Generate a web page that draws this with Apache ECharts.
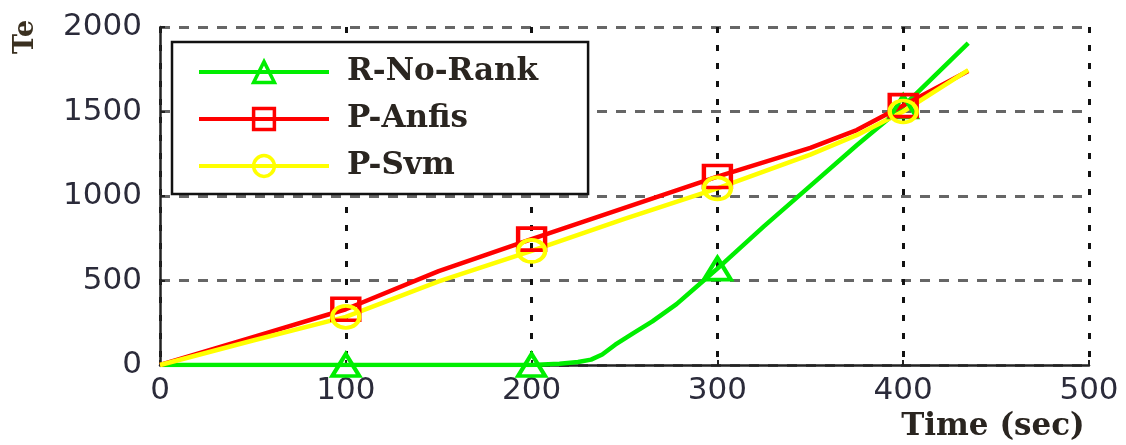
<!DOCTYPE html>
<html>
<head>
<meta charset="utf-8">
<script src="https://cdn.jsdelivr.net/npm/echarts@6/dist/echarts.min.js"></script>
<style>
html,body{margin:0;padding:0;background:#fff;}
#chart{width:1126px;height:445px;}
</style>
</head>
<body>
<div id="chart"></div>
<script>
// ---- data ----
const timeR = [0, 50, 100, 150, 200, 215, 225, 232, 238, 245, 255, 265, 278, 290, 300, 325, 350, 375, 400, 435];
const rNoRank = [0, 0, 0, 0, 0, 8, 18, 32, 62, 120, 190, 258, 360, 475, 570, 820, 1060, 1300, 1530, 1905];
const timeP = [0, 50, 100, 150, 200, 250, 300, 350, 375, 400, 435];
const pAnfis = [0, 165, 330, 555, 745, 930, 1115, 1285, 1390, 1535, 1740];
const pSvm = [0, 145, 285, 495, 675, 865, 1045, 1245, 1360, 1500, 1745];
const markerTimes = [100, 200, 300, 400];
const seriesNames = ['R-No-Rank', 'P-Anfis', 'P-Svm'];
const xTicks = [0, 100, 200, 300, 400, 500];
const yTicks = [0, 500, 1000, 1500, 2000];
const xTitle = 'Time (sec)';
const yTitle = 'Te';

function build(times, vals) {
  return times.map((t, i) => markerTimes.indexOf(t) >= 0
    ? { value: [t, vals[i]] }
    : { value: [t, vals[i]], symbol: 'none' });
}

function mkSeries(name, times, vals, color, symbol) {
  return {
    name: name,
    type: 'line',
    color: color,
    data: build(times, vals),
    symbol: symbol,
    symbolSize: [27, 22],
    showSymbol: true,
    showAllSymbol: true,
    lineStyle: { color: color, width: 4.5 },
    itemStyle: { color: 'rgba(255,255,255,0)', borderColor: color, borderWidth: 4 },
    emphasis: { disabled: true },
    animation: false
  };
}

const chart = echarts.init(document.getElementById('chart'), null, { renderer: 'canvas' });
const serif = 'DejaVu Serif';
const sans = 'DejaVu Sans';
chart.setOption({
  animation: false,
  backgroundColor: '#ffffff',
  grid: { left: 160, right: 37, top: 27, bottom: 80, containLabel: false },
  legend: {
    data: seriesNames,
    left: 172, top: 42,
    orient: 'vertical',
    itemWidth: 130, itemHeight: 26,
    itemGap: 15,
    padding: [14, 50, 12, 25],
    backgroundColor: '#ffffff',
    borderColor: '#111', borderWidth: 2.5,
    lineStyle: { width: 4 },
    itemStyle: { borderWidth: 3.5 },
    textStyle: { fontFamily: serif, fontWeight: 'bold', fontSize: 31, color: '#2a2520', lineHeight: 32, padding: [0, 0, 0, 13] },
    selectedMode: false
  },
  xAxis: {
    type: 'value',
    min: 0, max: 500, interval: 100,
    name: xTitle,
    nameLocation: 'end',
    nameGap: -96,
    nameTextStyle: { fontFamily: serif, fontWeight: 'bold', fontSize: 31, color: '#2a2520', align: 'center', verticalAlign: 'top', padding: [46, 0, 0, 0] },
    axisLine: { show: true, onZero: false, lineStyle: { color: '#222', width: 2.5 } },
    axisTick: { show: true, inside: true, length: 5, lineStyle: { color: '#222', width: 2 } },
    axisLabel: { fontFamily: sans, fontSize: 31, color: '#2b2b3a', margin: 10,
      formatter: v => (xTicks.indexOf(v) >= 0 ? String(v) : '') },
    splitLine: { show: true, lineStyle: { color: '#111', width: 3, type: [6, 12] } }
  },
  yAxis: {
    type: 'value',
    min: 0, max: 2000, interval: 500,
    axisLine: { show: true, onZero: false, lineStyle: { color: '#222', width: 2.5 } },
    axisTick: { show: true, inside: true, length: 5, lineStyle: { color: '#222', width: 2 } },
    axisLabel: { fontFamily: sans, fontSize: 31, color: '#2b2b3a', margin: 18,
      formatter: v => (yTicks.indexOf(v) >= 0 ? String(v) : '') },
    splitLine: { show: true, lineStyle: { color: '#666', width: 3, type: [10, 9] } }
  },
  graphic: [{
    type: 'text',
    x: 26, y: 37,
    rotation: Math.PI / 2,
    style: { text: yTitle, fontFamily: serif, fontWeight: 'bold', fontSize: 27, fill: '#3a3020', align: 'center', verticalAlign: 'middle' }
  }],
  series: [
    mkSeries(seriesNames[0], timeR, rNoRank, '#00ee00', 'triangle'),
    mkSeries(seriesNames[1], timeP, pAnfis, '#ff0000', 'rect'),
    mkSeries(seriesNames[2], timeP, pSvm, '#ffff00', 'circle')
  ]
});
</script>
</body>
</html>
